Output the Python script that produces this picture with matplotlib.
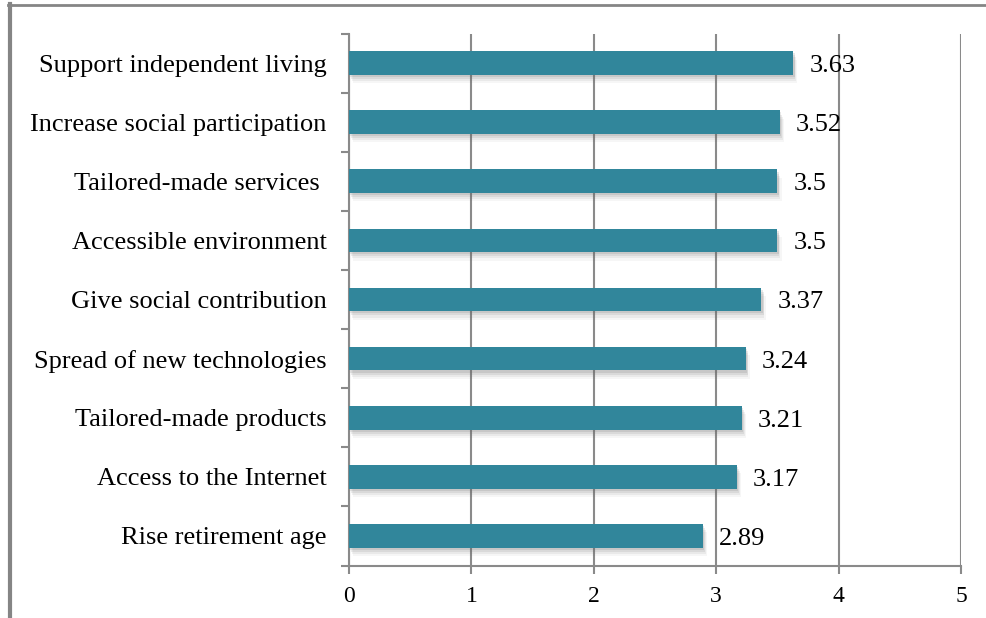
import matplotlib
matplotlib.use("Agg")
import matplotlib.pyplot as plt
import matplotlib.patheffects as pe
from matplotlib.lines import Line2D
import numpy as np

categories = [
    "Support independent living",
    "Increase social participation",
    "Tailored-made services ",
    "Accessible environment",
    "Give social contribution",
    "Spread of new technologies",
    "Tailored-made products",
    "Access to the Internet",
    "Rise retirement age",
]
values = [3.63, 3.52, 3.5, 3.5, 3.37, 3.24, 3.21, 3.17, 2.89]
value_labels = ["3.63", "3.52", "3.5", "3.5", "3.37", "3.24", "3.21", "3.17", "2.89"]
x_ticks = [0, 1, 2, 3, 4, 5]

plt.rcParams["font.family"] = ["Liberation Serif", "DejaVu Serif"]

W, H = 986, 618
fig = plt.figure(figsize=(W / 100, H / 100), dpi=100)
ax = fig.add_axes([349 / W, 1 - 565.5 / H, (961 - 349) / W, (565.5 - 33.5) / H])

grid_color = "#8a8a8a"
bar_color = "#31869b"

n = len(categories)
y = np.arange(n)[::-1]
bars = ax.barh(y, values, height=0.4, color=bar_color, zorder=3)
# soft drop shadow under each bar
shadow = [pe.SimplePatchShadow(offset=(dx, -dy), shadow_rgbFace="#666666", alpha=a)
          for dx, dy, a in [(3, 6, 0.06), (2, 4.5, 0.09), (1.5, 3, 0.12), (1, 1.5, 0.15)]]
for b in bars:
    b.set_path_effects(shadow + [pe.Normal()])

for yi, v, lab in zip(y, values, value_labels):
    ax.text(v + 0.13, yi - 0.05, lab, va="center", ha="left", fontsize=19,
            color="black", zorder=4)

ax.set_xlim(0, 5)
ax.set_ylim(-0.5, n - 0.5)
ax.set_xticks(x_ticks)
ax.set_xticklabels([str(t) for t in x_ticks], fontsize=17)

# category labels centred on bars, ticks at category boundaries
ax.set_yticks(y)
ax.set_yticklabels(categories, fontsize=19)
ax.tick_params(axis="y", length=0, pad=16)
ax.set_yticks(np.arange(-0.5, n, 1.0), minor=True)
ax.tick_params(axis="y", which="minor", length=6, width=1.5, color=grid_color)
ax.tick_params(axis="x", length=6, width=1.5, color=grid_color, pad=9)

ax.xaxis.grid(True, color=grid_color, linewidth=1.5, zorder=0)
ax.set_axisbelow(True)
for s in ["top", "right"]:
    ax.spines[s].set_visible(False)
for s in ["left", "bottom"]:
    ax.spines[s].set_color(grid_color)
    ax.spines[s].set_linewidth(1.5)

# outer frame of the chart area
fig.add_artist(Line2D([8 / W, 1], [1 - 5 / H, 1 - 5 / H], color="#858585",
                      linewidth=2, transform=fig.transFigure))
fig.add_artist(Line2D([9.5 / W, 9.5 / W], [0, 1 - 4 / H], color="#858585",
                      linewidth=3, transform=fig.transFigure))

fig.savefig("out.png", dpi=100, facecolor="white")
